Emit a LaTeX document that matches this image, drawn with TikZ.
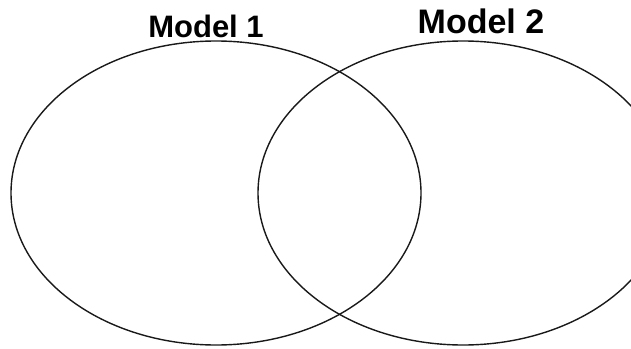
\documentclass[tikz,border=0pt]{standalone}
\usepackage{fontspec}
\setmainfont{Liberation Sans}
\usepackage{tikz}
\usetikzlibrary{positioning}
\usepackage{xcolor}
\definecolor{ringgray}{RGB}{25,25,25}

\begin{document}
\begin{tikzpicture}[x=1pt, y=-1pt]
  \tikzset{ring/.style={draw=ringgray, line width=1.4pt},
           modellabel/.style={font=\bfseries, anchor=base, inner sep=0pt}}
  \useasboundingbox (0,0) rectangle (631,348);
  \clip (0,0) rectangle (631,348);
  \fill[white] (0,0) rectangle (631,348);
  \coordinate (left) at (216,193);
  \coordinate (right) at (463,193);
  \draw[ring] (left) ellipse [x radius=205pt, y radius=152pt];
  \draw[ring] (right) ellipse [x radius=205pt, y radius=152pt];
  \node[modellabel, font=\fontsize{31}{31}\selectfont\bfseries] (m1) at (206,37) {Model 1};
  \node[modellabel, font=\fontsize{34}{34}\selectfont\bfseries] (m2) at (481,33) {Model 2};
\end{tikzpicture}
\end{document}
